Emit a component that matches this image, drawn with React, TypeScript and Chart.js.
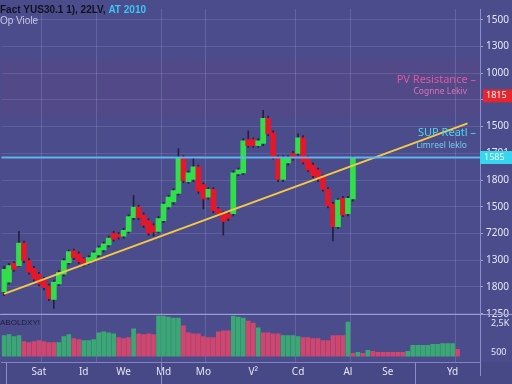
import React, { useEffect, useRef } from "react";
import { Chart, registerables } from "chart.js";

Chart.register(...registerables);

// ---------- data ----------
const SLOT_COUNT = 96;
const categories: string[] = Array.from({ length: SLOT_COUNT }, (_, i) => String(i));

const xTickIndex = [7, 16, 24, 32, 40, 50, 59, 69, 77, 90];
const xTickText = ["Sat", "Id", "We", "Md", "Mo", "V²", "Cd", "Al", "Se", "Yd"];

const opens = [
  1082, 1118, 1188, 1180, 1264, 1199, 1170, 1148, 1129, 1104,
  1053, 1111, 1148, 1191, 1235, 1224, 1206, 1191, 1202, 1220,
  1239, 1257, 1301, 1297, 1290, 1308, 1359, 1399, 1370, 1348,
  1330, 1308, 1348, 1399, 1418, 1450, 1585, 1494, 1502, 1549,
  1483, 1436, 1465, 1392, 1374, 1374, 1374, 1523, 1527, 1651,
  1651, 1629, 1637, 1731, 1677, 1585, 1502, 1564, 1600, 1600,
  1658, 1582, 1556, 1538, 1512, 1465, 1410, 1326, 1432, 1374,
  1429,
];
const closes = [
  1166, 1180, 1166, 1264, 1199, 1155, 1129, 1111, 1097, 1056,
  1118, 1155, 1199, 1232, 1210, 1195, 1184, 1210, 1228, 1246,
  1261, 1283, 1279, 1286, 1312, 1363, 1399, 1359, 1330, 1301,
  1305, 1356, 1410, 1436, 1461, 1585, 1498, 1527, 1549, 1458,
  1429, 1465, 1385, 1374, 1345, 1356, 1527, 1538, 1647, 1629,
  1629, 1647, 1731, 1673, 1585, 1502, 1585, 1585, 1582, 1658,
  1567, 1538, 1516, 1502, 1465, 1403, 1326, 1425, 1370, 1432,
  1585,
];
const highs = [
  1177, 1188, 1195, 1308, 1272, 1206, 1177, 1155, 1136, 1111,
  1126, 1162, 1206, 1239, 1242, 1231, 1210, 1217, 1235, 1253,
  1268, 1290, 1308, 1304, 1319, 1370, 1443, 1406, 1377, 1355,
  1337, 1363, 1417, 1443, 1468, 1618, 1592, 1534, 1582, 1556,
  1490, 1472, 1472, 1399, 1381, 1381, 1534, 1545, 1655, 1684,
  1658, 1655, 1761, 1739, 1684, 1592, 1592, 1592, 1607, 1673,
  1666, 1589, 1564, 1545, 1520, 1472, 1417, 1432, 1439, 1439,
  1589,
];
const lows = [
  1067, 1111, 1158, 1177, 1191, 1148, 1122, 1104, 1089, 1049,
  1020, 1104, 1140, 1184, 1202, 1188, 1177, 1184, 1195, 1213,
  1231, 1250, 1271, 1279, 1282, 1301, 1352, 1352, 1323, 1293,
  1290, 1301, 1341, 1392, 1410, 1443, 1490, 1487, 1494, 1450,
  1392, 1428, 1377, 1366, 1294, 1348, 1366, 1516, 1520, 1622,
  1622, 1622, 1629, 1666, 1578, 1494, 1494, 1556, 1574, 1593,
  1560, 1531, 1509, 1494, 1458, 1396, 1272, 1319, 1363, 1366,
  1421,
];

const volumes = [
  1050, 1100, 1000, 1050, 750, 700, 750, 800, 750, 700,
  700, 700, 1000, 1100, 900, 850, 800, 800, 850, 1200,
  1250, 1200, 1150, 950, 900, 950, 1400, 1150, 1100, 1150,
  1100, 2050, 2050, 2000, 1950, 1950, 1550, 1200, 1150, 1150,
  1000, 950, 950, 1250, 1300, 1300, 2050, 2000, 1950, 1800,
  1700, 1450, 1200, 1200, 1150, 1150, 1050, 1050, 1050, 1000,
  950, 950, 900, 900, 800, 800, 1050, 1050, 1050, 1750,
  150, 200, 150, 300, 250, 200, 200, 200, 200, 200,
  200, 250, 550, 550, 550, 550, 600, 600, 650, 650,
  650, 350,
];
const volumeUp = [
  1, 1, 1, 1, 0, 0, 0, 0, 0, 0,
  0, 1, 1, 1, 0, 0, 1, 1, 1, 1,
  1, 1, 1, 0, 0, 0, 1, 0, 0, 0,
  0, 1, 1, 1, 1, 1, 0, 0, 0, 0,
  0, 0, 0, 0, 0, 0, 1, 1, 1, 0,
  0, 1, 0, 0, 0, 0, 1, 1, 1, 1,
  0, 0, 0, 0, 0, 0, 0, 0, 0, 1,
  0, 1, 0, 1, 0, 0, 0, 0, 0, 0,
  0, 1, 1, 1, 1, 1, 1, 1, 1, 1,
  1, 0,
];

const priceTicks = [2100, 2000, 1900, 1800, 1700, 1600, 1500, 1400, 1300, 1200, 1100, 1000];
const priceTickLabels = ["1500", "1300", "1000", "", "1500", "1701", "1800", "1500", "7200", "1300", "1800", "1250"];
const volTicks = [1700, 200];
const volTickLabels = ["2,5K", "500"];

const trendStartIndex = 0;
const trendEndIndex = 93;
const trendStartPrice = 1074;
const trendEndPrice = 1712;

const resistanceLevel = 1815;
const resistanceLabel = "1815";
const resistanceZone = [1738, 1950];
const supportLevel = 1585;
const supportLabel = "1585";

// ---------- component ----------
export default function App() {
  const ref = useRef<HTMLCanvasElement | null>(null);

  useEffect(() => {
    document.body.style.margin = "0";
    const canvas = ref.current;
    if (!canvas) return;

    const GREEN = "#2fe04a";
    const RED = "#e5172b";
    const VGREEN = "#3aa874";
    const VRED = "#d0466f";
    const FONT = '"Noto Sans", "DejaVu Sans", sans-serif';
    const gridSet = new Set([8, 19, 32, 41, 59, 70, 91]);
    const rowSeps = [1, 32, 83];

    const bodyData = opens.map((o, i) => [o, closes[i]]);
    const wickData = lows.map((l, i) => [l, highs[i]]);
    const bodyColors = opens.map((o, i) => (closes[i] >= o ? GREEN : RED));
    const volColors = volumeUp.map((u) => (u ? VGREEN : VRED));
    const trendData = categories.map((_, i) =>
      i === trendStartIndex ? trendStartPrice : i === trendEndIndex ? trendEndPrice : null
    );

    const decor = {
      id: "decor",
      beforeDraw(chart: any) {
        const { ctx, chartArea: a, scales } = chart;
        ctx.save();
        ctx.fillStyle = "#4b4c8b";
        ctx.fillRect(0, 0, chart.width, chart.height);
        const t = scales.y.getPixelForValue(resistanceZone[1]);
        const b = scales.y.getPixelForValue(resistanceZone[0]);
        ctx.fillStyle = "rgba(125,70,125,0.16)";
        ctx.fillRect(a.left, t, a.right - a.left, b - t);
        ctx.fillStyle = "rgba(20,20,60,0.06)";
        ctx.fillRect(0, a.bottom, chart.width, chart.height - a.bottom);
        ctx.restore();
      },
      afterDatasetsDraw(chart: any) {
        const { ctx, chartArea: a, scales } = chart;
        const ys = scales.y;
        const xs = scales.x;
        ctx.save();
        // support line
        const sy = Math.round(ys.getPixelForValue(supportLevel)) + 0.5;
        ctx.strokeStyle = "#5fb4ee";
        ctx.lineWidth = 2;
        ctx.beginPath();
        ctx.moveTo(a.left, sy);
        ctx.lineTo(a.right, sy);
        ctx.stroke();

        // pane separator
        const sepY = Math.round(scales.yv.top) + 0.5;
        ctx.strokeStyle = "#9a9ad6";
        ctx.lineWidth = 1;
        ctx.beginPath();
        ctx.moveTo(0, sepY);
        ctx.lineTo(chart.width, sepY);
        ctx.stroke();

        // bottom row separators
        ctx.strokeStyle = "#8a8acc";
        rowSeps.forEach((i) => {
          const x = Math.round((xs.getPixelForValue(i) + xs.getPixelForValue(i - 1)) / 2) + 0.5;
          ctx.beginPath();
          ctx.moveTo(x, a.bottom);
          ctx.lineTo(x, chart.height);
          ctx.stroke();
        });
        ctx.beginPath();
        ctx.moveTo(a.right + 0.5, a.bottom);
        ctx.lineTo(a.right + 0.5, a.bottom + 14);
        ctx.stroke();

        // price label boxes
        const ry = ys.getPixelForValue(resistanceLevel);
        ctx.fillStyle = "#e8242c";
        ctx.fillRect(a.right + 3, ry - 6.5, chart.width - a.right - 3, 13);
        ctx.fillStyle = "#ffffff";
        ctx.font = `9px ${FONT}`;
        ctx.textBaseline = "middle";
        ctx.textAlign = "left";
        ctx.fillText(resistanceLabel, a.right + 6, ry);

        ctx.fillStyle = "#38d6ee";
        ctx.fillRect(a.right, sy - 6.5, chart.width - a.right, 13);
        ctx.fillStyle = "#eaffff";
        ctx.fillText(supportLabel, a.right + 4, sy);

        // level texts
        ctx.textAlign = "right";
        ctx.font = `11px ${FONT}`;
        ctx.fillStyle = "#e2569f";
        ctx.fillText("PV Resistance –", 476, 80);
        ctx.font = `8.5px ${FONT}`;
        ctx.fillStyle = "#e070b2";
        ctx.fillText("Cognne Lekiv", 467, 92);
        ctx.font = `11px ${FONT}`;
        ctx.fillStyle = "#4cd8e8";
        ctx.fillText("SUP Reatl –", 476, 133);
        ctx.font = `8.5px ${FONT}`;
        ctx.fillStyle = "#72cde4";
        ctx.fillText("Limreel leklo", 467, 146);

        // titles
        ctx.textAlign = "left";
        ctx.textBaseline = "alphabetic";
        ctx.font = 'bold 10px "Liberation Sans", sans-serif';
        ctx.fillStyle = "#121220";
        const t1 = "Fact YUS30.1 1), 22LV, ";
        ctx.fillText(t1, 0, 13);
        const w1 = ctx.measureText(t1).width;
        ctx.fillStyle = "#3ac6f6";
        ctx.fillText("AT 2010", w1, 13);
        ctx.font = '10px "Liberation Sans", sans-serif';
        ctx.fillStyle = "#c8c8e4";
        ctx.fillText("Op Viole", 0, 24);

        ctx.font = '8px "Liberation Sans", sans-serif';
        ctx.fillStyle = "#1c1c3a";
        ctx.fillText("ABOLDXY!", 0, 325);
        ctx.restore();
      },
    };

    const chart = new Chart(canvas, {
      type: "bar",
      data: {
        labels: categories,
        datasets: [
          {
            type: "line",
            label: "trend",
            data: trendData,
            yAxisID: "y",
            borderColor: "#f6c945",
            borderWidth: 2,
            pointRadius: 0,
            spanGaps: true,
            order: 0,
          } as any,
          {
            label: "body",
            data: bodyData as any,
            yAxisID: "y",
            backgroundColor: bodyColors,
            barThickness: 5,
            grouped: false,
            order: 1,
          },
          {
            label: "wick",
            data: wickData as any,
            yAxisID: "y",
            backgroundColor: "rgba(35,25,55,0.9)",
            barThickness: 1,
            grouped: false,
            order: 2,
          },
          {
            label: "volume",
            data: volumes,
            yAxisID: "yv",
            backgroundColor: volColors,
            barThickness: 4,
            grouped: false,
            order: 3,
          },
        ],
      },
      options: {
        animation: false,
        responsive: false,
        devicePixelRatio: 1,
        layout: { padding: 0 },
        plugins: { legend: { display: false }, tooltip: { enabled: false } },
        scales: {
          x: {
            type: "category",
            offset: true,
            grid: {
              offset: true,
              drawTicks: false,
              color: (c: any) => (gridSet.has(c.index) ? "rgba(195,195,245,0.2)" : "rgba(0,0,0,0)"),
            },
            border: { display: true, color: "#8282c4" },
            ticks: {
              autoSkip: false,
              maxRotation: 0,
              padding: 4,
              color: "#e6e6f4",
              font: { size: 10, family: FONT },
              callback: (_v: any, i: number) => {
                const k = xTickIndex.indexOf(i);
                return k >= 0 ? xTickText[k] : "";
              },
            },
            afterFit: (s: any) => {
              s.height = 22;
            },
          },
          y: {
            type: "linear",
            position: "right",
            stack: "panes",
            stackWeight: 313,
            min: 998,
            max: 2140,
            afterBuildTicks: (s: any) => {
              s.ticks = priceTicks.map((v) => ({ value: v }));
            },
            ticks: {
              padding: 3,
              color: "#e8e8f6",
              font: { size: 10, family: FONT },
              callback: (_v: any, i: number) => priceTickLabels[i],
            },
            grid: { color: "rgba(195,195,245,0.16)", tickLength: 3, tickColor: "#a0a0d8" },
            border: { display: true, color: "#8a8acc" },
            afterFit: (s: any) => {
              s.width = 32;
            },
          },
          yv: {
            type: "linear",
            position: "right",
            stack: "panes",
            stackWeight: 49,
            min: -300,
            max: 2150,
            afterBuildTicks: (s: any) => {
              s.ticks = volTicks.map((v) => ({ value: v }));
            },
            ticks: {
              padding: 3,
              color: "#e8e8f6",
              font: { size: 9, family: FONT },
              callback: (_v: any, i: number) => volTickLabels[i],
            },
            grid: { display: false },
            border: { display: true, color: "#8a8acc" },
            afterFit: (s: any) => {
              s.width = 32;
            },
          },
        },
      },
      plugins: [decor],
    });

    return () => chart.destroy();
  }, []);

  return <canvas ref={ref} width={512} height={384} style={{ display: "block" }} />;
}
